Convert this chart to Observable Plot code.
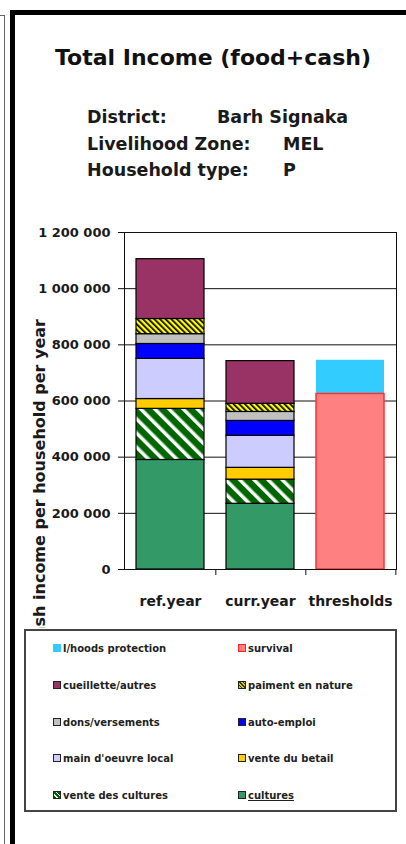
<!DOCTYPE html>
<html>
<head>
<meta charset="utf-8">
<script src="https://cdn.jsdelivr.net/npm/d3@7"></script>
<script src="https://cdn.jsdelivr.net/npm/@observablehq/plot@0.6"></script>
<style>
html, body { margin: 0; padding: 0; background: #fff; }
body { width: 406px; height: 844px; position: relative; overflow: hidden; font-family: "DejaVu Sans", sans-serif; }
.abs { position: absolute; }
#title { left: 0; width: 426px; top: 47px; text-align: center; font-weight: bold; font-size: 22px; line-height: 22px; color: #111; white-space: nowrap; }
.sub { font-weight: bold; font-size: 17.5px; line-height: 18px; color: #1a1a1a; white-space: nowrap; }
#chart { left: 0; top: 200px; width: 406px; height: 428px; }
#legend { left: 24px; top: 629px; width: 369px; height: 179px; border: 2px solid #444; background: #fff; z-index: 5; }
.item { position: absolute; display: flex; align-items: center; height: 14px; font-size: 10px; font-weight: bold; color: #222; white-space: nowrap; }
.sw { width: 6px; height: 6px; border: 1px solid #222; margin-right: 2px; flex: none; }
.line { position: absolute; z-index: 10; }
</style>
</head>
<body>
<div class="line" style="left:4px;top:15px;width:1px;height:829px;background:#666"></div>
<div class="line" style="left:0;top:15px;width:5px;height:1px;background:#666"></div>
<div class="line" style="left:10px;top:10px;width:5px;height:834px;background:#000"></div>
<div class="line" style="left:10px;top:10px;width:396px;height:5px;background:#000"></div>

<div id="title" class="abs">Total Income (food+cash)</div>
<div id="subs"></div>
<div id="chart" class="abs"></div>
<div id="legend" class="abs"></div>

<script>
// ---- data ----
const chartTitle = "Total Income (food+cash)";
const subtitleLabels = ["District:", "Livelihood Zone:", "Household type:"];
const subtitleValues = ["Barh Signaka", "MEL", "P"];
const yAxisLabel = "Cash income per household per year";

const categories = ["ref.year", "curr.year", "thresholds"];
const incomeSources = ["cultures", "vente des cultures", "vente du betail", "main d'oeuvre local", "auto-emploi", "dons/versements", "paiment en nature", "cueillette/autres"];
const refYearValues = [390000, 182000, 35000, 143000, 53000, 35000, 54000, 213000];
const currYearValues = [234000, 86000, 42000, 114000, 53000, 32000, 29000, 152000];
const thresholdSeries = ["survival", "l/hoods protection"];
const thresholdValues = [625000, 120000];
const yTicks = [0, 200000, 400000, 600000, 800000, 1000000, 1200000];

// legend order (rows, two columns)
const legendOrder = ["l/hoods protection", "survival", "cueillette/autres", "paiment en nature", "dons/versements", "auto-emploi", "main d'oeuvre local", "vente du betail", "vente des cultures", "cultures"];

// ---- styles ----
const incomeFills = ["#339966", "url(#hatchGreen)", "#FFCC00", "#CCCCFF", "#0000FF", "#C0C0C0", "url(#hatchYellow)", "#993366"];
const thresholdFills = ["#FF8080", "#33CCFF"];
const swatchCss = {
  "cultures": "background:#339966",
  "vente des cultures": "background:repeating-linear-gradient(45deg,#006600 0 2px,#fff 2px 3px)",
  "vente du betail": "background:#FFCC00",
  "main d'oeuvre local": "background:#CCCCFF",
  "auto-emploi": "background:#0000FF",
  "dons/versements": "background:#C0C0C0",
  "paiment en nature": "background:repeating-linear-gradient(45deg,#cccc00 0 1.5px,#333 1.5px 2.5px)",
  "cueillette/autres": "background:#993366",
  "survival": "background:#FF8080;border-color:#ff2020",
  "l/hoods protection": "background:#33CCFF;border-color:#33CCFF"
};

// ---- subtitles ----
const subs = document.getElementById("subs");
const subTops = [108, 135, 161];
const valueLefts = [217, 283, 283];
subtitleLabels.forEach((t, i) => {
  const a = document.createElement("div");
  a.className = "abs sub"; a.style.left = "87px"; a.style.top = subTops[i] + "px"; a.textContent = t;
  const b = document.createElement("div");
  b.className = "abs sub"; b.style.left = valueLefts[i] + "px"; b.style.top = subTops[i] + "px"; b.textContent = subtitleValues[i];
  subs.appendChild(a); subs.appendChild(b);
});

// ---- chart ----
const incomeData = [];
incomeSources.forEach((s, i) => incomeData.push({category: categories[0], series: s, value: refYearValues[i]}));
incomeSources.forEach((s, i) => incomeData.push({category: categories[1], series: s, value: currYearValues[i]}));
const thresholdData = thresholdSeries.map((s, i) => ({category: categories[2], series: s, value: thresholdValues[i]}));

const W = 406, H = 428, mL = 124, mR = 10, mT = 32, mB = 59;
const step = (W - mL - mR) / categories.length;
const fmt = d => d3.format(",")(d).replace(/,/g, " ");

const plot = Plot.plot({
  width: W, height: H,
  marginTop: mT, marginBottom: mB, marginLeft: mL, marginRight: mR,
  style: {background: "transparent", overflow: "hidden", fontFamily: "DejaVu Sans, sans-serif", fontWeight: "bold", color: "#1a1a1a"},
  x: {domain: categories, paddingInner: 0.24, paddingOuter: 0.12, label: null},
  y: {domain: [0, 1200000], label: null},
  color: {domain: [...incomeSources, ...thresholdSeries], range: [...incomeFills, ...thresholdFills]},
  marks: [
    Plot.ruleY(yTicks, {stroke: "#111", strokeWidth: 1}),
    Plot.barY(incomeData, Plot.stackY({x: "category", y: "value", fill: "series", stroke: "#000", strokeWidth: 1.2})),
    Plot.barY(thresholdData, Plot.stackY({x: "category", y: "value", fill: "series"})),
    Plot.barY(thresholdData.filter(d => d.series === "survival"), {x: "category", y: "value", fill: "none", stroke: "#ff3030", strokeWidth: 1.5}),
    Plot.frame({stroke: "#111"}),
    Plot.axisY({ticks: yTicks, tickSize: 6, tickPadding: 8, fontSize: 13, fontWeight: "bold", tickFormat: fmt, label: null, stroke: "#111"}),
    Plot.axisX({tickSize: 6, dx: step / 2, tickFormat: () => "", label: null, stroke: "#111"}),
    Plot.axisX({tickSize: 0, tickPadding: 27, fontSize: 14, fontWeight: "bold", label: null}),
    Plot.text([yAxisLabel], {text: d => d, frameAnchor: "left", textAnchor: "middle", rotate: -90, dx: -85, dy: 83, fontSize: 16, fontWeight: "bold", fill: "#1a1a1a"})
  ]
});

const svg = d3.select(plot);
const defs = svg.insert("defs", ":first-child");
const pg = defs.append("pattern").attr("id", "hatchGreen").attr("patternUnits", "userSpaceOnUse")
  .attr("width", 10).attr("height", 10).attr("patternTransform", "rotate(-45)");
pg.append("rect").attr("width", 10).attr("height", 10).attr("fill", "#006600");
pg.append("rect").attr("width", 3.5).attr("height", 10).attr("fill", "#ffffff");
const py = defs.append("pattern").attr("id", "hatchYellow").attr("patternUnits", "userSpaceOnUse")
  .attr("width", 4).attr("height", 4).attr("patternTransform", "rotate(-45)");
py.append("rect").attr("width", 4).attr("height", 4).attr("fill", "#FFFF00");
py.append("rect").attr("width", 1.7).attr("height", 4).attr("fill", "#000000");

document.getElementById("chart").appendChild(plot);

// ---- legend ----
const legend = document.getElementById("legend");
const rowTops = [10, 47, 84, 120, 157];
const colLefts = [27, 212];
legendOrder.forEach((name, i) => {
  const r = Math.floor(i / 2), c = i % 2;
  const it = document.createElement("div");
  it.className = "item";
  it.style.top = rowTops[r] + "px";
  it.style.left = colLefts[c] + "px";
  const sw = document.createElement("span");
  sw.className = "sw";
  sw.style.cssText = swatchCss[name];
  const tx = document.createElement("span");
  tx.textContent = name;
  if (name === "cultures") tx.style.textDecoration = "underline";
  it.appendChild(sw); it.appendChild(tx);
  legend.appendChild(it);
});
</script>
</body>
</html>
